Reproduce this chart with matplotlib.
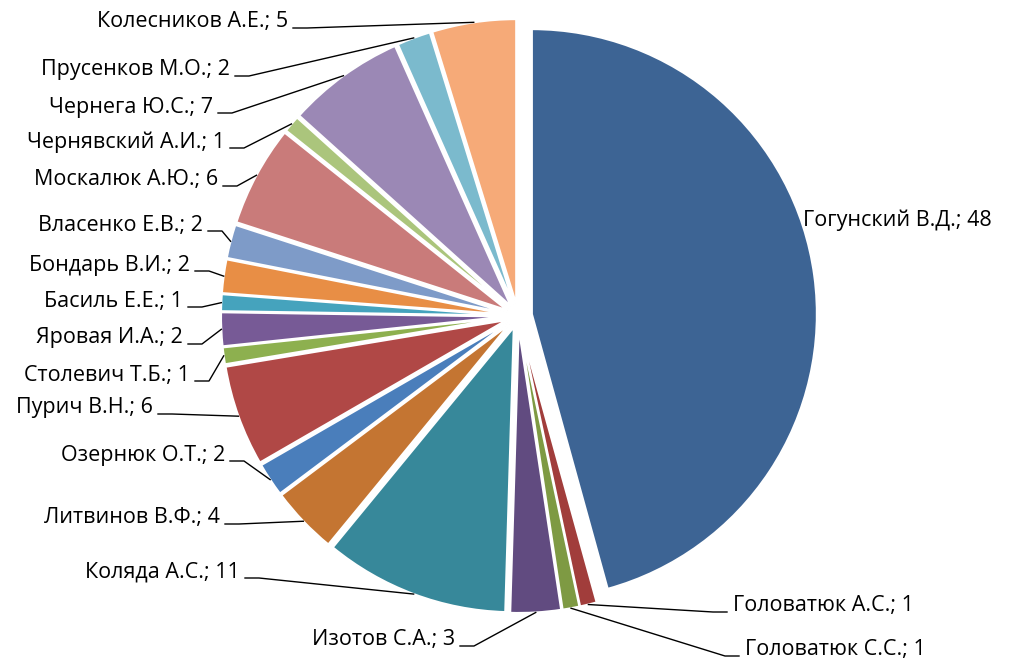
import numpy as np
import matplotlib.pyplot as plt

# data, clockwise from 12 o'clock
names = ['Гогунский В.Д.', 'Головатюк А.С.', 'Головатюк С.С.', 'Изотов С.А.',
         'Коляда А.С.', 'Литвинов В.Ф.', 'Озернюк О.Т.', 'Пурич В.Н.',
         'Столевич Т.Б.', 'Яровая И.А.', 'Басиль Е.Е.', 'Бондарь В.И.',
         'Власенко Е.В.', 'Москалюк А.Ю.', 'Чернявский А.И.', 'Чернега Ю.С.',
         'Прусенков М.О.', 'Колесников А.Е.']
values = [48, 1, 1, 3, 11, 4, 2, 6, 1, 2, 1, 2, 2, 6, 1, 7, 2, 5]
colors = ['#3D6494', '#A13D3B', '#7E9A43', '#614B80', '#37889A', '#C47532',
          '#4A7EBB', '#B04846', '#8DB04F', '#775A96', '#45A3BD', '#E88E45',
          '#7E9BC8', '#C97B7A', '#ABC57C', '#9B88B5', '#7BBACD', '#F6AA78']

# label layout in pixels (x = text edge next to the leader line, y from top)
lab_x = [803, 733, 745, 455, 240, 220, 225, 153, 190, 183, 183, 190,
         203, 218, 225, 213, 230, 288]
lab_y = [220, 606, 650, 640, 572, 518, 455, 408, 375, 338, 301, 265,
         225, 180, 142, 107, 70, 22]
lab_ha = ['left', 'left', 'left'] + ['right'] * 15

W, H = 1009, 664
cx, cy, R = 518, H - 316, 285

fig = plt.figure(figsize=(W / 100, H / 100), dpi=100)
ax = fig.add_axes([0, 0, 1, 1])
plt.rcParams['font.family'] = ['Open Sans', 'DejaVu Sans']

explode = [14] + [12] * (len(values) - 1)
wedges, _ = ax.pie(values, colors=colors, startangle=90, counterclock=False,
                   center=(cx, cy), radius=R, explode=explode,
                   wedgeprops=dict(edgecolor='white', linewidth=1.5))

for i, w in enumerate(wedges):
    txt = names[i] + '; ' + str(values[i])
    ty = H - lab_y[i]
    ax.text(lab_x[i], ty, txt, ha=lab_ha[i], va='center', fontsize=15.5,
            color='black')
    if i == 0:
        continue
    mid = np.deg2rad((w.theta1 + w.theta2) / 2)
    px = w.center[0] + w.r * np.cos(mid)
    py = w.center[1] + w.r * np.sin(mid)
    ly = ty - 6
    if lab_ha[i] == 'right':
        x0 = lab_x[i] + 5
        ax.plot([x0, x0 + 14, px], [ly, ly, py], color='black', lw=1)
    else:
        x0 = lab_x[i] - 6
        ax.plot([x0, x0 - 14, px], [ly, ly, py], color='black', lw=1)

ax.set_xlim(0, W)
ax.set_ylim(0, H)
ax.set_aspect('equal')
ax.axis('off')

fig.savefig('out.png', dpi=100)
